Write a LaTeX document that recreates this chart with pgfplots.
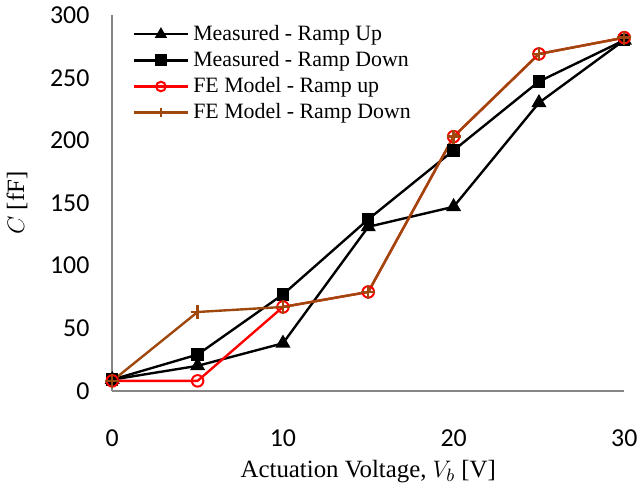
\documentclass[border=0pt]{standalone}
\usepackage{pgfplots}
\pgfplotsset{compat=1.18}
\usepackage{fontspec}
\setmainfont{Liberation Serif}
\newfontfamily\tickfont{Carlito}
\definecolor{brn}{RGB}{158,72,14}
\definecolor{axgray}{RGB}{134,134,134}
\begin{document}
\begin{tikzpicture}
\begin{axis}[
scale only axis,
width=257.5pt, height=189pt,
xmin=0, xmax=30, ymin=0, ymax=300,
xtick={0,10,20,30}, ytick={0,50,...,300},
axis x line=bottom, axis y line=left,
axis line style={axgray, line width=1pt, -},
major tick length=0pt,
tick label style={font=\tickfont\fontsize{13}{15}\selectfont},
/pgf/number format/assume math mode=true,
xticklabel style={yshift=-16pt},
yticklabel style={xshift=-8pt},
xlabel={Actuation Voltage, $V_b$ [V]},
ylabel={$C$ [fF]},
label style={font=\fontsize{12.5}{14}\selectfont},
xlabel style={yshift=0pt},
ylabel style={yshift=4.5pt},
clip=false,
legend style={draw=none, fill=none, at={(0.035,0.99)}, anchor=north west,
  font=\fontsize{11}{13}\selectfont, row sep=0pt, inner sep=1pt},
legend cell align=left,
legend image code/.code={\draw[mark repeat=2,mark phase=2,mark size=2.4pt] plot coordinates {(0cm,0cm) (0.48cm,0cm) (0.96cm,0cm)};},
]
\addplot[black, line width=1.2pt, mark=triangle*, mark size=3.2pt] coordinates {
(0,9) (5,20) (10,38) (15,131) (20,147) (25,230) (30,280)};
\addlegendentry{Measured - Ramp Up}
\addplot[black, line width=1.2pt, mark=square*, mark size=2.5pt] coordinates {
(0,9) (5,29) (10,77) (15,137) (20,192) (25,247) (30,280)};
\addlegendentry{Measured - Ramp Down}
\addplot[red, line width=1.2pt, mark=o, mark size=2.9pt, mark options={line width=1pt}] coordinates {
(0,8) (5,8) (10,67) (15,79) (20,203) (25,269) (30,282)};
\addlegendentry{FE Model - Ramp up}
\addplot[brn, line width=1.2pt, mark=+, mark size=3.5pt, mark options={line width=1.2pt}] coordinates {
(0,8) (5,63) (10,67) (15,79) (20,203) (25,269) (30,282)};
\addlegendentry{FE Model - Ramp Down}
\end{axis}
\end{tikzpicture}
\end{document}
